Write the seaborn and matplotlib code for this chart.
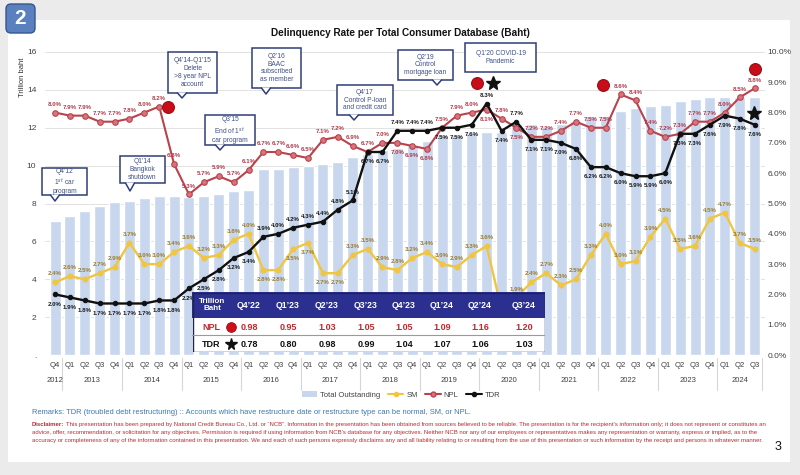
import matplotlib
matplotlib.use("Agg")
import matplotlib.pyplot as plt
from matplotlib.patches import Rectangle, FancyBboxPatch, Patch, Polygon
from matplotlib.lines import Line2D
import numpy as np
import pandas as pd
import seaborn as sns

# ---------------- data ----------------
quarters = ["Q4"] + ["Q1", "Q2", "Q3", "Q4"] * 11 + ["Q1", "Q2", "Q3"]
years = ["2012"] + [str(y) for y in range(2013, 2024) for _ in range(4)] + ["2024"] * 3

total_outstanding = [7.1, 7.35, 7.6, 7.85, 8.1, 8.15, 8.3, 8.4, 8.4, 8.35, 8.4, 8.5, 8.65, 8.7,
                     9.8, 9.8, 9.95, 10.0, 10.1, 10.2, 10.45, 10.6, 10.8, 10.95, 11.1, 11.3,
                     11.6, 11.6, 11.7, 11.75, 11.8, 12.2, 12.2, 12.1, 12.2, 12.35, 12.6, 12.6,
                     12.9, 13.05, 13.15, 13.2, 13.4, 13.5, 13.6, 13.6, 13.6, 13.6]
npl_rate = [8.0, 7.9, 7.9, 7.7, 7.7, 7.8, 8.0, 8.2, 6.3, 5.3, 5.7, 5.9, 5.7, 6.1,
            6.7, 6.7, 6.6, 6.5, 7.1, 7.2, 6.9, 6.7, 7.0, 7.0, 6.9, 6.8, 7.5, 7.9,
            8.0, 8.1, 7.8, 7.5, 7.2, 7.2, 7.4, 7.7, 7.5, 7.5, 8.6, 8.4, 7.4, 7.2,
            7.3, 7.7, 7.7, 8.0, 8.5, 8.8]
tdr_rate = [2.0, 1.9, 1.8, 1.7, 1.7, 1.7, 1.7, 1.8, 1.8, 2.2, 2.5, 2.8, 3.2, 3.4,
            3.9, 4.0, 4.2, 4.3, 4.4, 4.8, 5.1, 6.7, 6.7, 7.4, 7.4, 7.4, 7.5, 7.5,
            7.6, 8.3, 7.4, 7.7, 7.1, 7.1, 7.0, 6.8, 6.2, 6.2, 6.0, 5.9, 5.9, 6.0,
            7.3, 7.3, 7.6, 7.9, 7.8, 7.6]
sm_rate = [2.4, 2.6, 2.5, 2.7, 2.9, 3.7, 3.0, 3.0, 3.4, 3.6, 3.2, 3.3, 3.8, 4.0,
           2.8, 2.8, 3.5, 3.7, 2.7, 2.7, 3.3, 3.5, 2.9, 2.8, 3.2, 3.4, 3.0, 2.9,
           3.3, 3.6, 1.5, 1.9, 2.4, 2.7, 2.3, 2.5, 3.3, 4.0, 3.0, 3.1, 3.9, 4.5,
           3.5, 3.6, 4.5, 4.7, 3.7, 3.5]

table_quarters = ["Q4’22", "Q1’23", "Q2’23", "Q3’23", "Q4’23", "Q1’24", "Q2’24", "Q3’24"]
table_npl = [0.98, 0.95, 1.03, 1.05, 1.05, 1.09, 1.16, 1.20]
table_tdr = [0.78, 0.80, 0.98, 0.99, 1.04, 1.07, 1.06, 1.03]

# label placement (a = above, b = below)
npl_pos = "a" * 23 + "bbb" + "aaa" + "b" + "a" + "b" + "a" * 16
tdr_pos = "b" * 14 + "a" * 7 + "bb" + "aaa" + "bbb" + "a" + "b" + "a" + "b" * 16
sm_pos = "a" * 14 + "b" * 6 + "a" * 28

# ---------------- style ----------------
sns.set_style("white")
plt.rcParams["font.family"] = ["Liberation Sans", "DejaVu Sans"]

BAR = "#c8d7ee"
NPL_C = "#b8434d"
NPL_F = "#d9737b"
SM_C = "#f0c540"
TDR_C = "#111111"
NAVY = "#2f3d78"
BOXTXT = "#3f5186"

W, H = 800, 475
fig = plt.figure(figsize=(W / 100, H / 100), dpi=100)
fig.patch.set_facecolor("#ebebeb")
fig.patches.append(Rectangle((8 / W, 1 - 462 / H), 782 / W, 442 / H,
                             transform=fig.transFigure, fc="white", ec="none", zorder=-5))

x0, x1, ytop, ybot = 44.6, 765.0, 52.0, 355.0
ax = fig.add_axes([x0 / W, 1 - ybot / H, (x1 - x0) / W, (ybot - ytop) / H])
ax.set_facecolor("none")

df = pd.DataFrame({"i": np.arange(len(quarters)), "quarter": quarters, "year": years,
                   "total": total_outstanding, "npl": npl_rate, "tdr": tdr_rate, "sm": sm_rate})

sns.barplot(data=df, x="i", y="total", color=BAR, saturation=1, width=0.74, ax=ax, zorder=2)
ax.set_xlim(-0.7, len(quarters) - 0.3)
ax.set_ylim(0, 16)
ax.set_yticks(range(0, 17, 2))
ax.set_yticklabels(["." if v == 0 else str(v) for v in range(0, 17, 2)], fontsize=6, color="#404040")
ax.set_xticks(range(len(quarters)))
ax.set_xticklabels(quarters, fontsize=5.5, color="#404040")
ax.tick_params(axis="x", length=0, pad=5)
ax.tick_params(axis="y", length=0, pad=6)
ax.set_xlabel("")
ax.set_ylabel("")
ax.yaxis.grid(True, color="#e2e2e2", lw=0.7)
ax.set_axisbelow(True)
for s in ax.spines.values():
    s.set_visible(False)

ax2 = ax.twinx()
ax2.set_ylim(0, 10)
ax2.set_yticks(range(0, 11))
ax2.set_yticklabels([f"{v:.1f}%" for v in range(0, 11)], fontsize=6, color="#404040")
ax2.tick_params(axis="y", length=0, pad=2)
for s in ax2.spines.values():
    s.set_visible(False)

sns.lineplot(data=df, x="i", y="sm", ax=ax2, color=SM_C, lw=1.7, marker="o", markersize=3.6,
             markeredgecolor=SM_C, markerfacecolor=SM_C, zorder=3)
sns.lineplot(data=df, x="i", y="npl", ax=ax2, color=NPL_C, lw=1.5, marker="o", markersize=4,
             markeredgecolor=NPL_C, markerfacecolor=NPL_F, markeredgewidth=0.8, zorder=4)
sns.lineplot(data=df, x="i", y="tdr", ax=ax2, color=TDR_C, lw=1.7, marker="o", markersize=3.2,
             markeredgecolor=TDR_C, markerfacecolor=TDR_C, zorder=5)
ax2.set_xlabel("")
ax2.set_ylabel("")
ax2.set_xlim(-0.7, len(quarters) - 0.3)


def label_series(vals, pos, color):
    for i, (v, p) in enumerate(zip(vals, pos)):
        dy = 6 if p == "a" else -7
        ax2.annotate(f"{v:.1f}%", (i, v), xytext=(0, dy), textcoords="offset points",
                     ha="center", va="center", fontsize=4.4, fontweight="bold", color=color,
                     zorder=6)


label_series(sm_rate, sm_pos, "#9a7b2c")
label_series(npl_rate, npl_pos, "#b0394a")
label_series(tdr_rate, tdr_pos, "#1a1a1a")

# year separators and labels
tr = ax.get_xaxis_transform()
for i, q in enumerate(quarters):
    if q == "Q4" or i == len(quarters) - 1:
        ax.plot([i + 0.5, i + 0.5], [-0.01, -0.115], transform=tr, clip_on=False,
                color="#d6d6d6", lw=0.8)
for y in dict.fromkeys(years):
    c = df.loc[df.year == y, "i"].mean()
    ax.text(c, -0.083, y, transform=tr, ha="center", va="center", fontsize=5.5, color="#404040")

# ---------------- overlay (pixel coordinates) ----------------
ov = fig.add_axes([0, 0, 1, 1])
ov.set_xlim(0, W)
ov.set_ylim(H, 0)
ov.axis("off")
ov.set_zorder(5)
ov.patch.set_alpha(0)

# badge
ov.add_patch(FancyBboxPatch((6, 4), 29, 29, boxstyle="round,pad=0,rounding_size=5",
                            fc="#5b80c0", ec="#35558f", lw=1))
ov.text(20.5, 19, "2", ha="center", va="center", fontsize=15, fontweight="bold", color="white")

ov.text(400, 33, "Delinquency Rate per Total Consumer Database (Baht)", ha="center",
        va="center", fontsize=7.2, fontweight="bold", color="#111111")
ov.text(22, 77, "Trillion baht", rotation=90, ha="center", va="center", fontsize=5.5,
        color="#333333")

# callouts: text, box (x0, y0, x1, y1), pointer tip
callouts = [
    ("Q4’12\n1$^{st}$ car\nprogram", (42, 168, 87, 195), (55, 201)),
    ("Q1’14\nBangkok\nshutdown", (120, 156, 165, 183), (130, 191)),
    ("Q3’15\nEnd of 1$^{st}$\ncar program", (205, 115, 255, 145), (220, 150)),
    ("Q4’14-Q1’15\nDelete\n>8 year NPL\naccount", (168, 52, 217, 93), (182, 98)),
    ("Q2’16\nBAAC\nsubscribed\nas member", (252, 48, 301, 88), (266, 94)),
    ("Q4’17\nControl P-loan\nand credit card", (337, 85, 393, 115), (354, 120)),
    ("Q2’19\nControl\nmortgage loan", (398, 50, 453, 80), (437, 85)),
    ("Q1’20 COVID-19\nPandemic", (465, 43, 536, 72), None),
]
for txt, (bx0, by0, bx1, by1), tip in callouts:
    ov.add_patch(Rectangle((bx0, by0), bx1 - bx0, by1 - by0, fc="white", ec=NAVY, lw=1.1,
                           zorder=2))
    if tip is not None:
        tx, ty = tip
        ov.add_patch(Polygon([(tx - 4.5, by1 - 0.6), (tx + 4.5, by1 - 0.6), (tx, ty)],
                             closed=True, fc="white", ec="none", zorder=3))
        ov.plot([tx - 4.5, tx, tx + 4.5], [by1, ty, by1], color=NAVY, lw=1.1, zorder=3)
    ov.text((bx0 + bx1) / 2, (by0 + by1) / 2, txt, ha="center", va="center", fontsize=4.8,
            color=BOXTXT, linespacing=1.15, zorder=4)

# event markers
for (mx, my) in [(168, 107), (477, 83), (603, 85), (755, 69)]:
    ov.plot(mx, my, "o", ms=8.5, mfc="#c80d18", mec="#9c0a12", mew=0.8, zorder=5)
for (mx, my) in [(493, 83), (754, 113)]:
    ov.plot(mx, my, "*", ms=10.5, mfc="#111111", mec="#111111", zorder=5)

# legend
handles = [Patch(fc=BAR, ec="none", label="Total Outstanding"),
           Line2D([], [], color=SM_C, lw=1.5, marker="o", ms=3, label="SM"),
           Line2D([], [], color=NPL_C, lw=1.5, marker="o", ms=3.5, mfc=NPL_F, label="NPL"),
           Line2D([], [], color=TDR_C, lw=1.5, marker="o", ms=3, label="TDR")]
fig.legend(handles=handles, loc="center", bbox_to_anchor=(401 / W, 1 - 395 / H), ncol=4,
           frameon=False, fontsize=5.5, handlelength=2.0, handleheight=0.7, columnspacing=1.0,
           handletextpad=0.4, labelcolor="#404040")

ov.text(32, 413, "Remarks: TDR (troubled debt restructuring) :: Accounts which have restructure "
        "date or restructure type can be normal, SM, or NPL.", ha="left", va="center",
        fontsize=5.4, color="#3a78b0")
disc = [
    "This presentation has been prepared by National Credit Bureau Co., Ltd. or \u201cNCB\u201d. "
    "Information in the presentation has been obtained from sources believed to be reliable. "
    "The presentation is for the recipient\u2019s information only; it does not represent or constitutes an",
    "advice, offer, recommendation, or solicitation for any objectives. Permission is required if using "
    "information from NCB\u2019s database for any objectives. Neither NCB nor any of our employees or "
    "representatives makes any representation or warranty, express or implied, as to the",
    "accuracy or completeness of any of the information contained in this presentation. We and each of "
    "such persons expressly disclaims any and all liability relating to or resulting from the use of this "
    "presentation or such information by the receipt and persons in whatever manner.",
]
DFS = 4.35
t0 = ov.text(32, 424.5, "Disclaimer:", ha="left", va="center", fontsize=DFS, color="#c0282e",
             fontweight="bold")
ov.annotate(disc[0], xy=(1, 0.5), xycoords=t0, xytext=(1.5, 0), textcoords="offset points",
            ha="left", va="center", fontsize=DFS, color="#c0282e")
ov.text(32, 432.5, disc[1], ha="left", va="center", fontsize=DFS, color="#c0282e")
ov.text(32, 440.5, disc[2], ha="left", va="center", fontsize=DFS, color="#c0282e")
ov.text(778, 447, "3", ha="center", va="center", fontsize=9, color="#111111")

# ---------------- table ----------------
tax = fig.add_axes([192 / W, 1 - 352 / H, (545 - 192) / W, 60 / H])
tax.set_xlim(192, 545)
tax.set_ylim(352, 292)
tax.axis("off")
tax.set_zorder(10)
tax.add_patch(Rectangle((192, 292), 353, 26, fc="#2b2f8f", ec="none"))
tax.add_patch(Rectangle((192, 318), 353, 17, fc="white", ec="none"))
tax.add_patch(Rectangle((192, 335), 353, 17, fc="white", ec="none"))
tax.plot([192, 545], [335, 335], color="#9a9a9a", lw=0.8)
tax.add_patch(Rectangle((192.5, 292.5), 352, 59, fc="none", ec="#1d2450", lw=1.0))
col_x = [249, 288, 327, 366, 404, 442, 480, 524]
tax.text(212, 305, "Trillion\nBaht", ha="center", va="center", fontsize=5.8, fontweight="bold",
         color="white", linespacing=1.1)
for cx, q, vn, vt in zip(col_x, table_quarters, table_npl, table_tdr):
    tax.text(cx, 305.5, q, ha="center", va="center", fontsize=6.3, fontweight="bold", color="white")
    tax.text(cx, 327, f"{vn:.2f}", ha="center", va="center", fontsize=6.5, fontweight="bold",
             color="#c0282e")
    tax.text(cx, 344, f"{vt:.2f}", ha="center", va="center", fontsize=6.5, fontweight="bold",
             color="#111111")
tax.text(211, 327, "NPL", ha="center", va="center", fontsize=6.5, fontweight="bold", color="#c0282e")
tax.text(211, 344, "TDR", ha="center", va="center", fontsize=6.5, fontweight="bold", color="#111111")
tax.plot(231, 326.5, "o", ms=7, mfc="#d00f1a", mec="#a00a12", mew=0.6)
tax.plot(231, 344, "*", ms=8.5, mfc="#111111", mec="#111111")

fig.savefig("out.png", dpi=100, facecolor=fig.get_facecolor())
